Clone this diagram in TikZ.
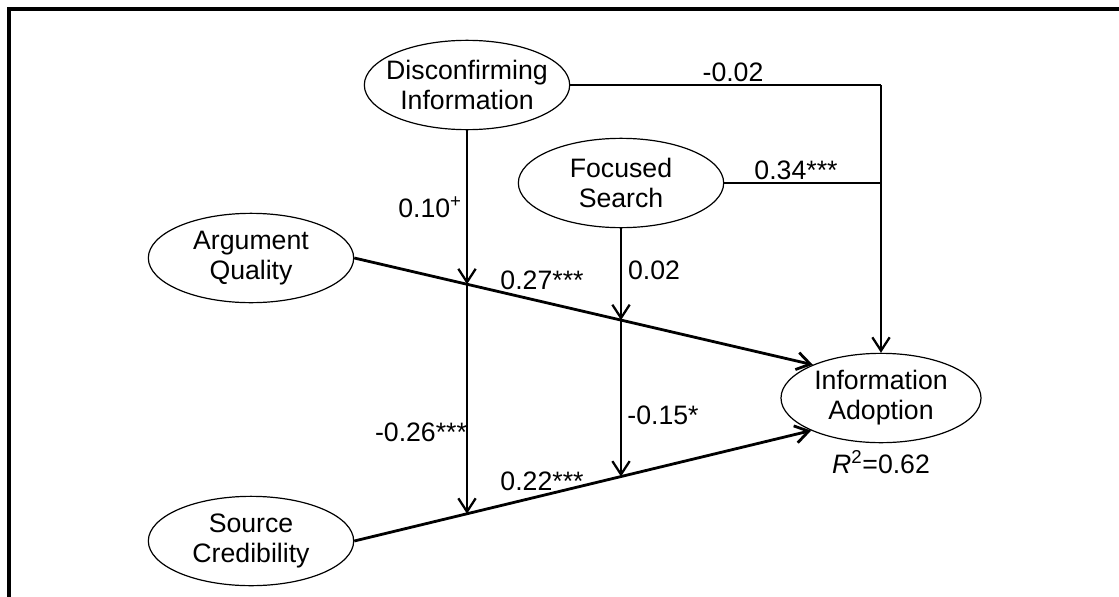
\documentclass[tikz,border=0pt]{standalone}
\usepackage{fontspec}
\setmainfont{Liberation Sans}
\usetikzlibrary{arrows.meta,intersections,shapes.geometric}

\tikzset{
  latent/.style={ellipse, draw, line width=0.9pt, align=center,
    minimum width=154pt, minimum height=67pt, inner xsep=-14pt, inner ysep=-6pt,
    font=\fontsize{20}{22.5}\selectfont},
  coef/.style={font=\fontsize{20}{22.5}\selectfont, inner sep=0pt},
  path/.style={line width=2.1pt},
  modpath/.style={line width=1.7pt},
  thinpath/.style={line width=1.1pt},
  tip/.style={-{Straight Barb[length=10pt,width=13pt]}},
}

\begin{document}
\begin{tikzpicture}[x=0.75pt,y=-0.75pt]
\useasboundingbox (0,0) rectangle (1119,596);

% frame
\coordinate (frameBL) at (9,598);
\coordinate (frameTL) at (9,9);
\coordinate (frameTR) at (1121,9);
\draw[line width=2.5pt] (frameBL) -- (frameTL) -- (frameTR);

% constructs
\node[latent] (DI) at (467,85)  {Disconfirming\\Information};
\node[latent] (FS) at (621,183) {Focused\\Search};
\node[latent] (AQ) at (251,258) {Argument\\Quality};
\node[latent] (SC) at (251,541) {Source\\Credibility};
\node[latent, minimum width=150pt] (IA) at (881,398) {Information\\Adoption};
\node[coef] (R2) at (881,462) {\textit{R}\textsuperscript{2}=0.62};

% main effects
\draw[path, tip, name path=aqline] (AQ.east) -- (IA.154);
\draw[path, tip, name path=scline] (SC.east) -- (IA.205);

% moderator lines and their crossings with the main paths
\path[name path=divert] (DI.south) -- ++(0,500);
\path[name path=fsvert] (FS.south) -- ++(0,400);
\path[name intersections={of=divert and aqline, by=diAQ}];
\path[name intersections={of=divert and scline, by=diSC}];
\path[name intersections={of=fsvert and aqline, by=fsAQ}];
\path[name intersections={of=fsvert and scline, by=fsSC}];

\draw[modpath, tip] (DI.south) -- (diAQ);
\draw[modpath, tip] (diAQ) -- (diSC);
\draw[modpath, tip] (FS.south) -- (fsAQ);
\draw[modpath, tip] (fsAQ) -- (fsSC);

% direct effects of the moderators
\coordinate (diCorner) at (DI.east -| IA.north);
\coordinate (fsJoin) at (FS.east -| IA.north);
\draw[thinpath] (DI.east) -- (diCorner);
\draw[thinpath] (FS.east) -- (fsJoin);
\draw[modpath, tip] (diCorner) -- (IA.north);

% coefficients
\node[coef] (cDI) at (733,72) {-0.02};
\node[coef] (cFS) at (796,170) {0.34***};
\node[coef] (cDIAQ) at (430,207) {0.10\textsuperscript{+}};
\node[coef] (cFSAQ) at (654,270) {0.02};
\node[coef] (cAQ) at (542,280) {0.27***};
\node[coef] (cDISC) at (421,432) {-0.26***};
\node[coef] (cFSSC) at (663,415) {-0.15*};
\node[coef] (cSC) at (542,481) {0.22***};
\end{tikzpicture}
\end{document}
